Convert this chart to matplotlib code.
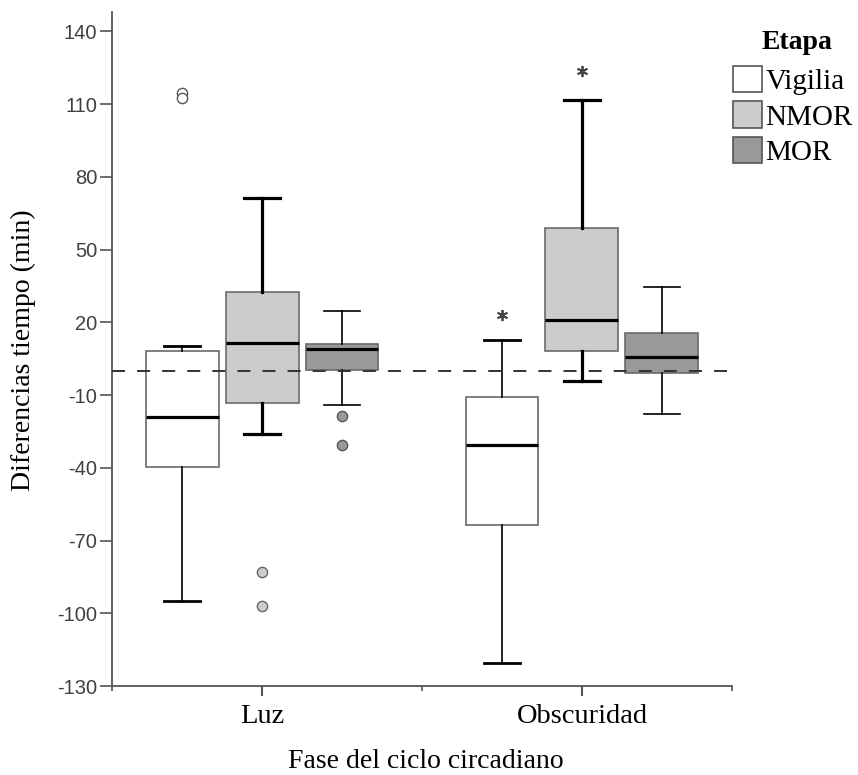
import matplotlib
matplotlib.use('Agg')
import matplotlib.pyplot as plt
from matplotlib.patches import Patch
from matplotlib import font_manager

# data (minutes)
fases = ['Luz', 'Obscuridad']
etapas = ['Vigilia', 'NMOR', 'MOR']
# order: Luz (Vigilia, NMOR, MOR), Obscuridad (Vigilia, NMOR, MOR)
q1 = [-39.6, -13.4, 0.3, -63.5, 8.3, -0.8]
mediana = [-19.0, 11.5, 9.0, -30.8, 21.1, 5.8]
q3 = [8.0, 32.4, 11.0, -10.8, 58.8, 15.7]
bigote_inf = [-94.8, -26.0, -14.0, -120.4, -4.1, -17.8]
bigote_sup = [10.1, 71.2, 24.8, 12.8, 111.8, 34.4]
atipicos = [[114.6, 112.6], [-82.8, -96.9], [-18.6, -30.4], [], [], []]
extremos = [[], [], [], [23.2], [123.8], []]
yticks = [-130, -100, -70, -40, -10, 20, 50, 80, 110, 140]

relleno = ['white', '#cccccc', '#999999']
borde_atip = ['#555555', '#666666', '#555555']
desplaz = [-0.25, 0.0, 0.25]
lw_bigote = [1.2, 2.3, 1.2]
lw_cap = [2.0, 2.3, 1.2]

serif = 'Liberation Serif'
nombres = {f.name for f in font_manager.fontManager.ttflist}
sans = 'Liberation Sans' if 'Liberation Sans' in nombres else 'DejaVu Sans'

fig = plt.figure(figsize=(8.58, 7.75), dpi=100)
ax = fig.add_axes([112/858, 89/775, 620/858, 674/775])

for g in range(len(fases)):
    for e in range(len(etapas)):
        i = g * 3 + e
        st = dict(med=mediana[i], q1=q1[i], q3=q3[i], whislo=bigote_inf[i],
                  whishi=bigote_sup[i], fliers=atipicos[i])
        ax.bxp([st], positions=[g + desplaz[e]], widths=0.228, capwidths=0.113,
               patch_artist=True, manage_ticks=False,
               boxprops=dict(facecolor=relleno[e], edgecolor='#6a6a6a', linewidth=1.2),
               medianprops=dict(color='black', linewidth=2.3, solid_capstyle='butt'),
               whiskerprops=dict(color='black', linewidth=lw_bigote[e]),
               capprops=dict(color='black', linewidth=lw_cap[e]),
               flierprops=dict(marker='o', markersize=7.4, markerfacecolor=relleno[e],
                               markeredgecolor=borde_atip[e], markeredgewidth=1.0))
        if extremos[i]:
            ax.plot([g + desplaz[e]] * len(extremos[i]), extremos[i], linestyle='none',
                    marker=(6, 2, 0), markersize=8, markeredgewidth=1.3, color='#444444')

ax.axhline(0, color='#333333', linewidth=1.4, linestyle=(0, (6.7, 6.2)), zorder=5)

ax.set_xlim(-0.469, 1.469)
ax.set_ylim(-130, 148)
ax.spines['top'].set_visible(False)
ax.spines['right'].set_visible(False)
for s in ['left', 'bottom']:
    ax.spines[s].set_color('#555555')
    ax.spines[s].set_linewidth(1.3)

ax.set_yticks(yticks)
ax.set_yticklabels([str(v) for v in yticks], fontfamily=sans, fontsize=14.5, color='#404040')
ax.tick_params(axis='y', length=8.6, width=1.2, color='#555555', pad=2)

ax.set_xticks([0, 1])
ax.set_xticklabels(fases, fontfamily=serif, fontsize=20.5)
ax.set_xticks([-0.469, 0.5, 1.469], minor=True)
ax.tick_params(axis='x', which='major', length=7, width=1.5, color='#555555', pad=6)
ax.tick_params(axis='x', which='minor', length=3.5, width=1.2, color='#555555')

fig.text(426/858, 1/775, 'Fase del ciclo circadiano', fontfamily=serif, fontsize=20,
         ha='center', va='bottom')
fig.text(23/858, 1 - 350/775, 'Diferencias tiempo (min)', fontfamily=serif, fontsize=20,
         ha='center', va='center', rotation=90)

# legend title placed on its own, entries below it
fig.text(797/858, 1 - 49/775, 'Etapa', fontfamily=serif, fontsize=20, fontweight='bold',
         ha='center', va='baseline')
handles = [Patch(facecolor=relleno[e], edgecolor='#555555', linewidth=1.2) for e in range(3)]
leg = ax.legend(handles, etapas, loc='upper left',
                bbox_to_anchor=(733/858, 1 - 66/775), bbox_transform=fig.transFigure,
                frameon=False, borderpad=0, borderaxespad=0, handlelength=1.0,
                handleheight=1.0, handletextpad=0.12, labelspacing=0.22,
                prop=dict(family=serif, size=21))

fig.savefig('out.png', dpi=100)
